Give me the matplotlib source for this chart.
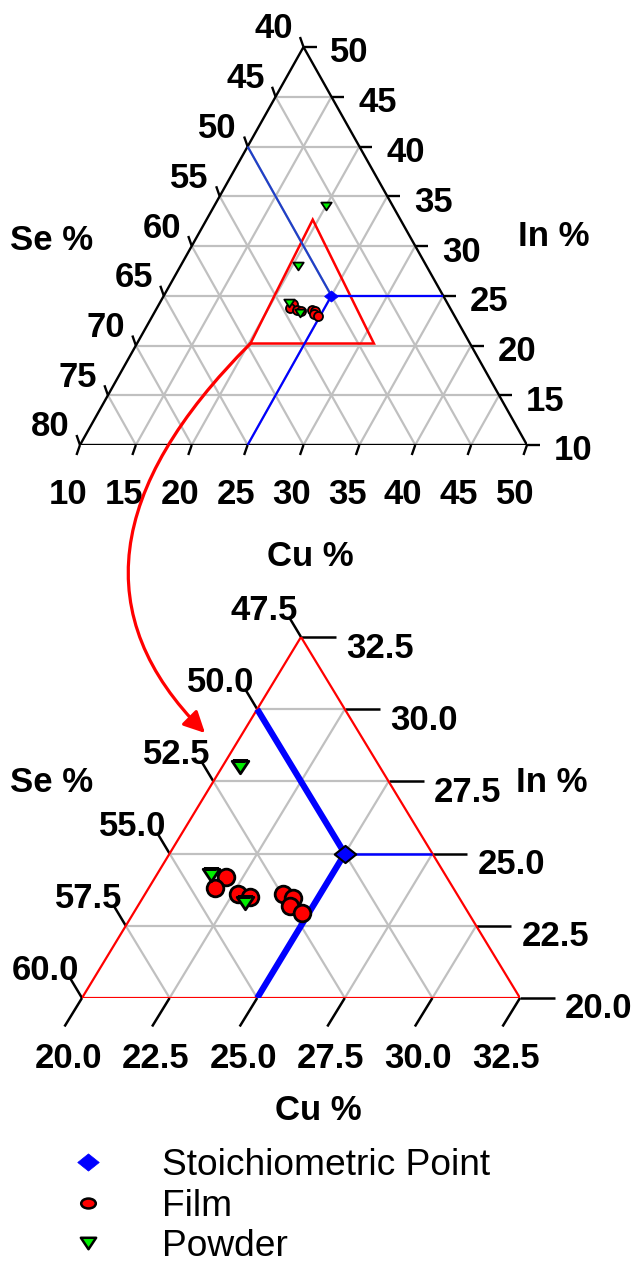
import numpy as np
import matplotlib
matplotlib.use("Agg")
import matplotlib.pyplot as plt
from matplotlib.lines import Line2D
from matplotlib.patches import ConnectionPatch, Polygon
from matplotlib.path import Path
from matplotlib.transforms import Affine2D

plt.rcParams['font.family'] = ['Liberation Sans', 'DejaVu Sans']

# ---------------- data (atomic %) ----------------
cu_film = [22.0, 21.9, 22.65, 23.05, 23.95, 24.3, 24.35, 24.8]
in_film = [24.2, 23.8, 23.6, 23.5, 23.6, 23.45, 23.2, 22.95]
cu_powder = [20.0, 20.5, 21.55, 23.0]
in_powder = [34.0, 28.0, 24.25, 23.3]
cu_stoich = [25.0]
in_stoich = [25.0]
legend_labels = ['Stoichiometric Point', 'Film', 'Powder']

# outline of the zoomed region as drawn on the full diagram
outline_cu = [20.15, 31.2, 19.5]
outline_in = [20.2, 20.2, 32.65]

full_cu_ticks = [10, 15, 20, 25, 30, 35, 40, 45, 50]
full_in_ticks = [10, 15, 20, 25, 30, 35, 40, 45, 50]
full_se_ticks = [40, 45, 50, 55, 60, 65, 70, 75, 80]
zoom_cu_ticks = [20.0, 22.5, 25.0, 27.5, 30.0, 32.5]
zoom_in_ticks = [20.0, 22.5, 25.0, 27.5, 30.0, 32.5]
zoom_se_ticks = [47.5, 50.0, 52.5, 55.0, 57.5, 60.0]

W, H = 636, 1265
fig = plt.figure(figsize=(W / 100, H / 100), dpi=100)

RED = '#ff0000'
BLUE = '#0000ff'
GREEN = '#00ee00'
GREY = '#c0c0c0'
FS = 25


class Tern:
    def __init__(self, rect_px, cu_ticks, in_ticks, se_ticks):
        l, t, r, b = rect_px
        self.ax = fig.add_axes([l / W, 1 - b / H, (r - l) / W, (b - t) / H])
        self.ax.set_xlim(0, 1)
        self.ax.set_ylim(0, 1)
        self.ax.axis('off')
        self.wpx, self.hpx = r - l, b - t
        self.cu_lo, self.in_lo = cu_ticks[0], in_ticks[0]
        self.span = cu_ticks[-1] - cu_ticks[0]
        self.se_lo = se_ticks[0]
        self.cu_ticks, self.in_ticks, self.se_ticks = cu_ticks, in_ticks, se_ticks

    def xy(self, cu, inn):
        cu = np.asarray(cu, float)
        inn = np.asarray(inn, float)
        b = (cu - self.cu_lo) / self.span
        h = (inn - self.in_lo) / self.span
        return b + h / 2, h

    def off(self, dx, dy):
        return dx / self.wpx, -dy / self.hpx

    def line(self, cus, ins, **kw):
        x, y = self.xy(cus, ins)
        return self.ax.plot(x, y, solid_capstyle='butt', **kw)

    def edge_in(self, v):  # right edge point at In=v (Se = se_lo)
        return 100 - self.se_lo - v, v

    def edge_se(self, s):  # left edge point at Se=s (Cu = cu_lo)
        return self.cu_lo, 100 - s - self.cu_lo

    def draw_frame(self, color, lw, grid_lw):
        hi_cu = self.cu_lo + self.span
        hi_in = self.in_lo + self.span
        for v in self.in_ticks[1:-1]:
            c2, _ = self.edge_in(v)
            self.line([self.cu_lo, c2], [v, v], color=GREY, lw=grid_lw, zorder=1)
        for v in self.cu_ticks[1:-1]:
            self.line([v, v], [self.in_lo, 100 - self.se_lo - v], color=GREY, lw=grid_lw, zorder=1)
        for s in self.se_ticks[1:-1]:
            self.line([self.cu_lo, 100 - s - self.in_lo], [100 - s - self.cu_lo, self.in_lo],
                      color=GREY, lw=grid_lw, zorder=1)
        vx, vy = self.xy([self.cu_lo, hi_cu, self.cu_lo], [self.in_lo, self.in_lo, hi_in])
        self.patch = Polygon(np.column_stack([vx, vy]), closed=True, fill=False,
                             edgecolor=color, lw=lw, zorder=3, joinstyle='miter')
        self.ax.add_patch(self.patch)

    def draw_ticks(self, d_cu, d_in, d_se, l_cu, l_in, l_se, fmt, tick_lw, fs):
        kw = dict(color='black', lw=tick_lw, clip_on=False, zorder=2, solid_capstyle='butt')
        tkw = dict(fontsize=fs, fontweight='bold', ha='center', va='center')
        for v in self.cu_ticks:
            x, y = self.xy(v, self.in_lo)
            ox, oy = self.off(*d_cu)
            self.ax.plot([x, x + ox], [y, y + oy], **kw)
            lx, ly = self.off(*l_cu)
            self.ax.text(x + lx, y + ly, fmt % v, **tkw)
        for v in self.in_ticks:
            x, y = self.xy(*self.edge_in(v))
            ox, oy = self.off(*d_in)
            self.ax.plot([x, x + ox], [y, y + oy], **kw)
            lx, ly = self.off(*l_in)
            self.ax.text(x + lx, y + ly, fmt % v, **tkw)
        for s in self.se_ticks:
            x, y = self.xy(*self.edge_se(s))
            ox, oy = self.off(*d_se)
            self.ax.plot([x, x + ox], [y, y + oy], **kw)
            lx, ly = self.off(*l_se)
            self.ax.text(x + lx, y + ly, fmt % s, **tkw)


def flat_marker(kind, ratio):
    if kind == 'diamond':
        p = Path([(-1, 0), (0, 1), (1, 0), (0, -1), (-1, 0)], closed=True)
    elif kind == 'tri':
        p = Path([(-1, 1), (1, 1), (0, -1), (-1, 1)], closed=True)
    else:
        p = Path.unit_circle()
    return p.transformed(Affine2D().scale(1, ratio))


DIAM = flat_marker('diamond', 0.8)
TRI = flat_marker('tri', 0.75)

# ---------------- top (full) triangle ----------------
top = Tern((80, 47, 527, 445), full_cu_ticks, full_in_ticks, full_se_ticks)
top.draw_frame('black', 1.7, 1.6)
top.draw_ticks(d_cu=(-3.5, 10), d_in=(13, 0), d_se=(-3.5, -10),
               l_cu=(-12, 49), l_in=(46, 6), l_se=(-30, -18),
               fmt='%d', tick_lw=1.7, fs=FS)

zx, zy = top.xy(outline_cu, outline_in)
top.ax.add_patch(Polygon(np.column_stack([zx, zy]), closed=True, fill=False,
                         edgecolor=RED, lw=1.8, zorder=4))

cs, ist = cu_stoich[0], in_stoich[0]
se_st = 100 - cs - ist
top.line([top.cu_lo, cs], [100 - se_st - top.cu_lo, ist], color='#2040c8', lw=1.6, zorder=4)
top.line([cs, top.edge_in(ist)[0]], [ist, ist], color=BLUE, lw=1.6, zorder=4)
top.line([cs, cs], [ist, top.in_lo], color=BLUE, lw=1.6, zorder=4)

x, y = top.xy(cu_film, in_film)
top.ax.plot(x, y, 'o', ms=6.5, mfc=RED, mec='black', mew=1.3, zorder=6, ls='none')
x, y = top.xy(cu_powder, in_powder)
top.ax.plot(x, y, marker=TRI, ms=7.5, mfc=GREEN, mec='black', mew=1.3, zorder=7, ls='none')
x, y = top.xy(cu_stoich, in_stoich)
top.ax.plot(x, y, marker=DIAM, ms=10, mfc=BLUE, mec=BLUE, mew=0.5, zorder=8, ls='none')

# ---------------- bottom (zoomed) triangle ----------------
bot = Tern((82, 637, 520, 998), zoom_cu_ticks, zoom_in_ticks, zoom_se_ticks)
bot.draw_frame(RED, 1.6, 1.6)
bot.draw_ticks(d_cu=(-17.5, 28.5), d_in=(35, 0), d_se=(-12, -20),
               l_cu=(-14, 61), l_in=(79, 11), l_se=(-37, -27),
               fmt='%.1f', tick_lw=1.8, fs=FS)

bot.line([bot.cu_lo, cs], [100 - se_st - bot.cu_lo, ist], color=BLUE, lw=4.5, zorder=4)
bot.line([cs, cs], [ist, bot.in_lo], color=BLUE, lw=4.5, zorder=4)
bot.line([cs, bot.edge_in(ist)[0]], [ist, ist], color=BLUE, lw=1.8, zorder=4)

x, y = bot.xy(cu_film, in_film)
l1, = bot.ax.plot(x, y, 'o', ms=12, mfc=RED, mec='black', mew=2.0, zorder=6, ls='none')
x, y = bot.xy(cu_powder, in_powder)
l2, = bot.ax.plot(x, y, marker=TRI, ms=12, mfc=GREEN, mec='black', mew=2.0, zorder=7, ls='none')
for ln in (l1, l2):
    ln.set_clip_path(bot.patch)
x, y = bot.xy(cu_stoich, in_stoich)
bot.ax.plot(x, y, marker=DIAM, ms=15.5, mfc=BLUE, mec='black', mew=1.5, zorder=8, ls='none')

# ---------------- axis titles ----------------
def ftext(px, py, s, **kw):
    fig.text(px / W, 1 - py / H, s, ha='center', va='center', **kw)

for (px, py, s) in [(52, 241, 'Se %'), (554, 237, 'In %'), (310, 556, 'Cu %'),
                    (52, 782, 'Se %'), (552, 783, 'In %'), (318, 1110, 'Cu %')]:
    ftext(px, py, s, fontsize=FS, fontweight='bold')

# ---------------- arrow ----------------
con = ConnectionPatch(xyA=top.xy(outline_cu[0], outline_in[0]), coordsA=top.ax.transData,
                      xyB=(205, H - 733), coordsB='figure pixels',
                      arrowstyle='-|>', connectionstyle='angle3,angleA=225,angleB=135',
                      color=RED, lw=2.3, mutation_scale=32, zorder=10)
fig.add_artist(con)

# ---------------- legend ----------------
handles = [
    Line2D([], [], ls='none', marker=DIAM, ms=15.5, mfc=BLUE, mec=BLUE, mew=0.5),
    Line2D([], [], ls='none', marker=flat_marker('circle', 0.68), ms=10.5, mfc=RED, mec='black', mew=1.8),
    Line2D([], [], ls='none', marker=TRI, ms=11, mfc=GREEN, mec='black', mew=1.8),
]
fig.legend(handles, legend_labels, loc='upper left', bbox_to_anchor=(60 / W, 1 - 1148 / H),
           frameon=False, fontsize=26.7, borderpad=0, borderaxespad=0,
           handlelength=1.51, handletextpad=1.25, labelspacing=0.15)

fig.savefig('out.png', dpi=100)
